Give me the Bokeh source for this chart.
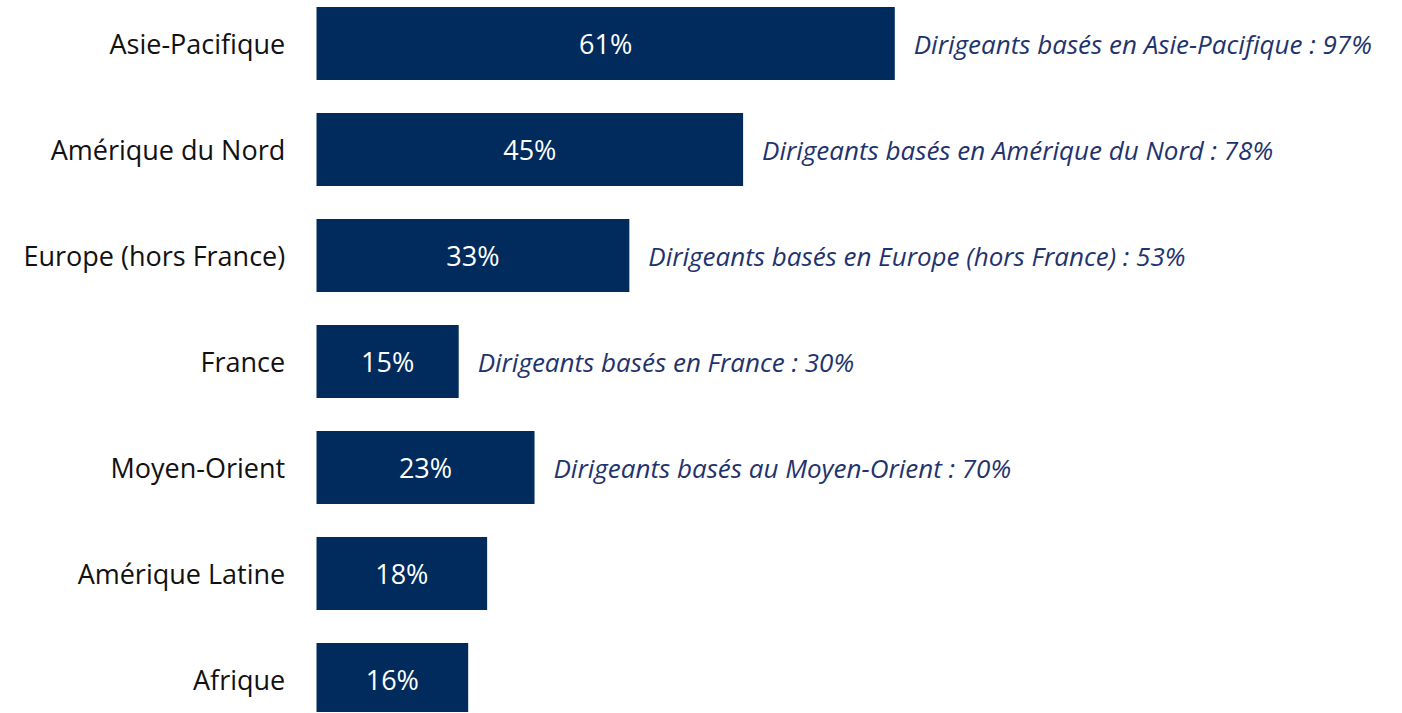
from bokeh.plotting import figure
from bokeh.models import Range1d, ColumnDataSource
from bokeh.core.properties import value
from bokeh.embed import file_html
from bokeh.resources import INLINE

categories = ["Asie-Pacifique", "Amérique du Nord", "Europe (hors France)", "France",
              "Moyen-Orient", "Amérique Latine", "Afrique"]
values = [61, 45, 33, 15, 23, 18, 16]
value_labels = ["61%", "45%", "33%", "15%", "23%", "18%", "16%"]
annotations = ["Dirigeants basés en Asie-Pacifique : 97%",
               "Dirigeants basés en Amérique du Nord : 78%",
               "Dirigeants basés en Europe (hors France) : 53%",
               "Dirigeants basés en France : 30%",
               "Dirigeants basés au Moyen-Orient : 70%",
               "", ""]

BAR = "#002B5C"
ANN = "#1F336E"

pos = list(range(len(categories)))
src = ColumnDataSource(dict(
    y=pos, v=values, mid=[v / 2 for v in values], lab=value_labels,
    cat=categories, ann=annotations, annx=[v + 2.0 for v in values],
    catx=[-3.3] * len(categories),
))

W, H = 1394, 712
ppu = 9.48
x0 = -316 / ppu
p = figure(width=W, height=H, output_backend="svg", toolbar_location=None,
           x_range=Range1d(x0, x0 + W / ppu),
           y_range=Range1d(-0.406 + H / 106.0, -0.406),
           min_border=0, min_border_left=0, min_border_right=0,
           min_border_top=0, min_border_bottom=0)
p.axis.visible = False
p.grid.visible = False
p.outline_line_color = None
p.background_fill_color = "white"
p.border_fill_color = "white"

p.hbar(y="y", right="v", left=0, height=0.689, source=src,
       fill_color=BAR, line_color=None)

p.text(x="mid", y="y", text="lab", source=src, text_color="white",
       text_align="center", text_baseline="middle",
       text_font=value("Open Sans"), text_font_size="27px")

p.text(x="catx", y="y", text="cat", source=src, text_color="#111111",
       text_align="right", text_baseline="middle",
       text_font=value("Open Sans"), text_font_size="27px")

p.text(x="annx", y="y", text="ann", source=src, text_color=ANN,
       text_align="left", text_baseline="middle",
       text_font=value("Open Sans"), text_font_style="italic",
       text_font_size="26px")

open("out.html", "w").write(file_html(p, INLINE))
